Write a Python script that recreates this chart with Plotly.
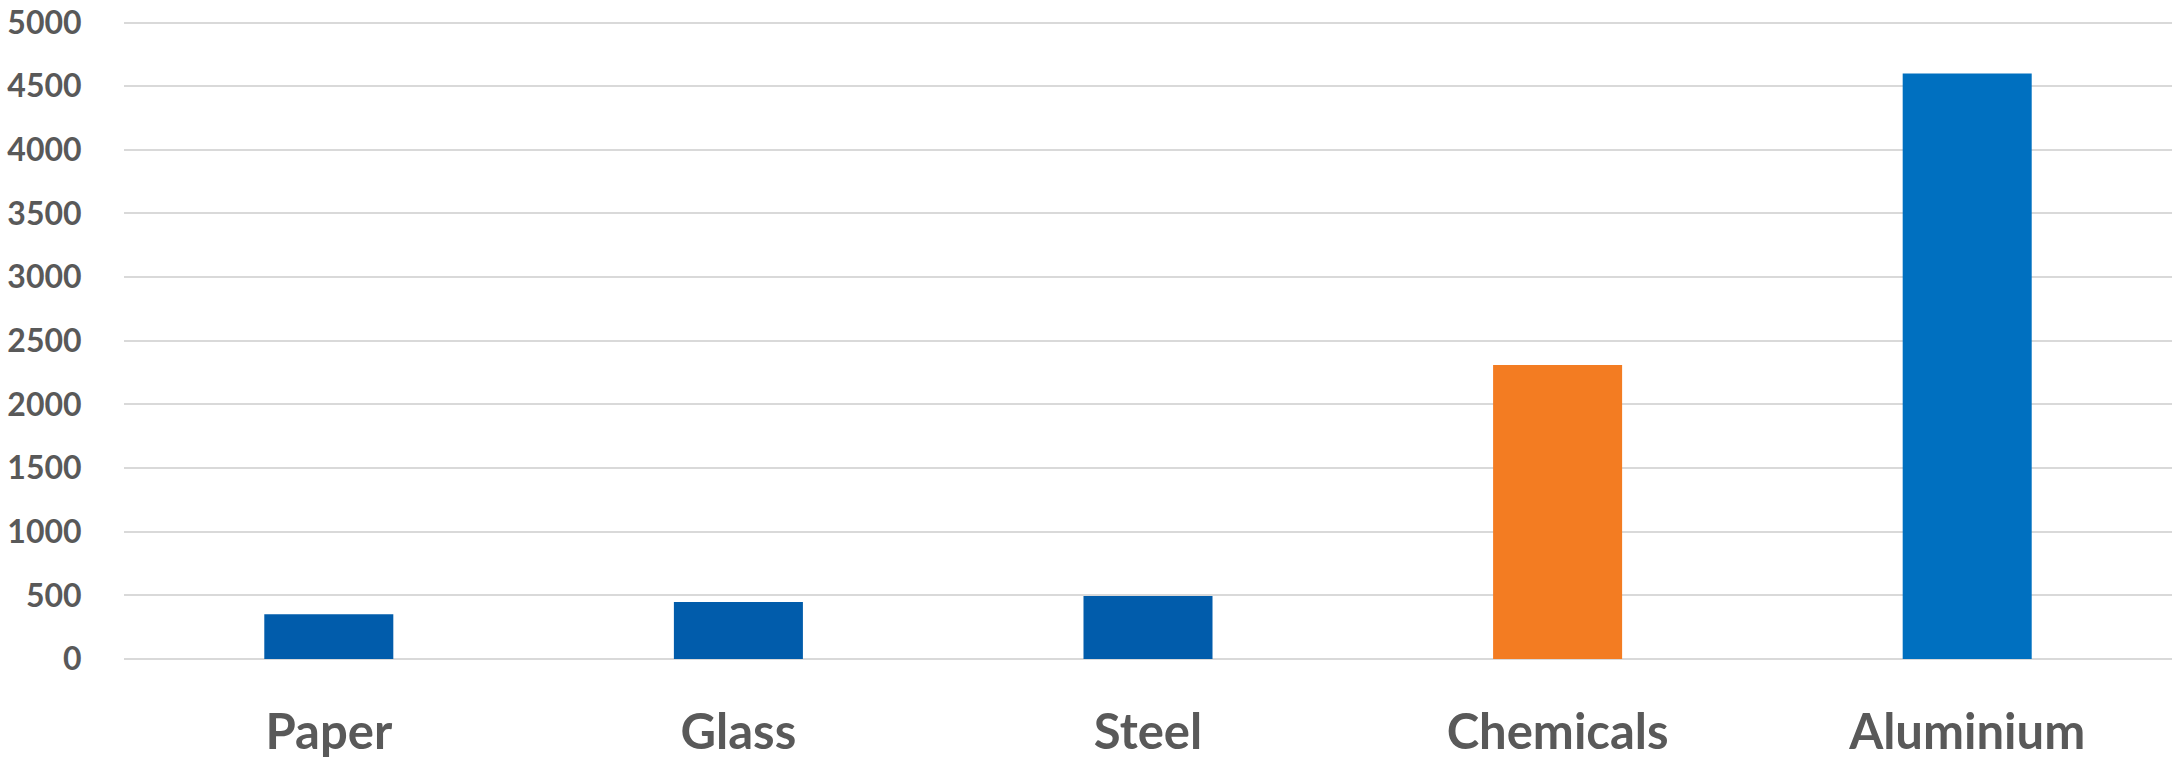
import plotly.graph_objects as go

categories = ["Paper", "Glass", "Steel", "Chemicals", "Aluminium"]
values = [352, 448, 495, 2310, 4600]
bar_colors = ["#015CAB", "#015CAB", "#015CAB", "#F37C22", "#0070C0"]
y_ticks = [0, 500, 1000, 1500, 2000, 2500, 3000, 3500, 4000, 4500, 5000]

fig = go.Figure(
    go.Bar(x=categories, y=values, marker=dict(color=bar_colors, line=dict(width=0)))
)

fig.update_layout(
    width=2172,
    height=759,
    margin=dict(l=124, r=0, t=20, b=97),
    paper_bgcolor="white",
    plot_bgcolor="white",
    bargap=0.685,
    showlegend=False,
    font=dict(family="Lato", color="#595959"),
)

fig.update_xaxes(
    type="category",
    showgrid=False,
    showline=False,
    zeroline=False,
    ticks="outside",
    ticklen=30,
    tickcolor="rgba(0,0,0,0)",
    tickfont=dict(family="Lato", size=49, color="#595959", weight="bold"),
)

fig.update_yaxes(
    range=[0, 5020],
    tickvals=y_ticks,
    ticktext=[str(v) for v in y_ticks],
    ticklabeloverflow="allow",
    showgrid=True,
    gridcolor="#D9D9D9",
    gridwidth=2,
    zeroline=True,
    zerolinecolor="#D9D9D9",
    zerolinewidth=2,
    showline=False,
    ticks="outside",
    ticklen=35,
    tickcolor="rgba(0,0,0,0)",
    tickfont=dict(family="Lato", size=32, color="#595959", weight="bold"),
)

fig.write_html(
    "out.html",
    config={"displayModeBar": False},
    post_script="document.body.style.margin='0';document.body.style.overflow='hidden';",
)
